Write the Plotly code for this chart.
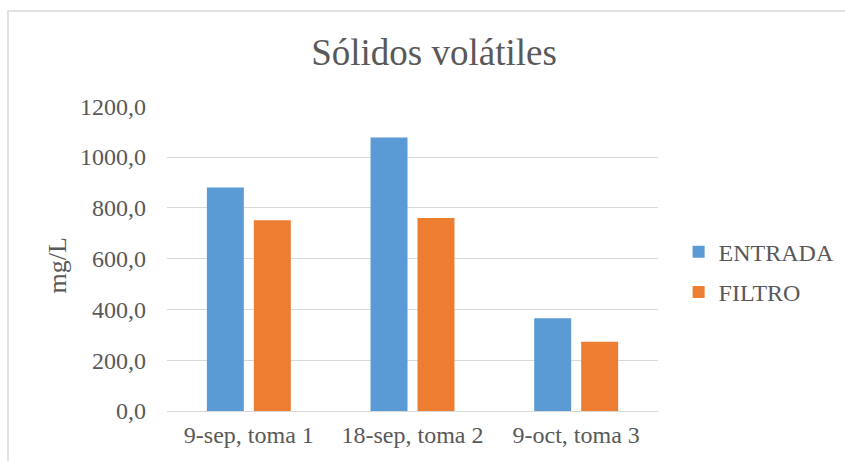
import plotly.graph_objects as go

categories = ["9-sep, toma 1", "18-sep, toma 2", "9-oct, toma 3"]
entrada = [880.0, 1077.0, 365.0]
filtro = [751.0, 760.0, 273.0]
y_ticks = [0, 200, 400, 600, 800, 1000, 1200]

text_color = "#595959"
grid_color = "#d9d9d9"
serif = "Liberation Serif"

fig = go.Figure()
fig.add_trace(go.Bar(name="ENTRADA", x=categories, y=entrada,
                     marker=dict(color="#5B9BD5", line=dict(width=0)),
                     legendgroup="a"))
fig.add_trace(go.Bar(name="FILTRO", x=categories, y=filtro,
                     marker=dict(color="#ED7D31", line=dict(width=0)),
                     legendgroup="b"))

fig.update_layout(
    width=845, height=461,
    margin=dict(l=167, r=187, t=106, b=50, autoexpand=False),
    paper_bgcolor="white", plot_bgcolor="white",
    separators=",.",
    barmode="group", bargap=0.426, bargroupgap=0.213,
    font=dict(family=serif, size=24, color=text_color),
    title=dict(text="Sólidos volátiles", x=434 / 845, xanchor="center",
               y=1 - 52 / 461, yanchor="middle",
               font=dict(family=serif, size=37, color=text_color)),
    legend=dict(x=1.042, xanchor="left", y=0.455, yanchor="middle",
                traceorder="grouped", tracegroupgap=6,
                font=dict(family=serif, size=24, color=text_color),
                bgcolor="rgba(0,0,0,0)"),
    xaxis=dict(showgrid=False, showline=True, linecolor=grid_color, linewidth=1,
               ticks="", tickfont=dict(family=serif, size=24),
               ticklabelstandoff=2),
    yaxis=dict(range=[0, 1201], tickvals=y_ticks, tickformat=".1f",
               showgrid=True, gridcolor=grid_color, gridwidth=1,
               zeroline=False, showline=False, ticks="",
               ticklabelstandoff=20, tickfont=dict(family=serif, size=24)),
    annotations=[dict(text="mg/L", textangle=-90, showarrow=False,
                      xref="paper", yref="paper",
                      x=(57 - 167) / 491, y=1 - (265 - 105.5) / 305,
                      xanchor="center", yanchor="middle",
                      font=dict(family=serif, size=26, color=text_color))],
    shapes=[dict(type="rect", xref="paper", yref="paper",
                 x0=(8 - 167) / 491, x1=1.5,
                 y0=-0.3, y1=1 + (105.5 - 10.5) / 305,
                 line=dict(color=grid_color, width=1.5), layer="below")],
)

fig.write_html("out.html")
